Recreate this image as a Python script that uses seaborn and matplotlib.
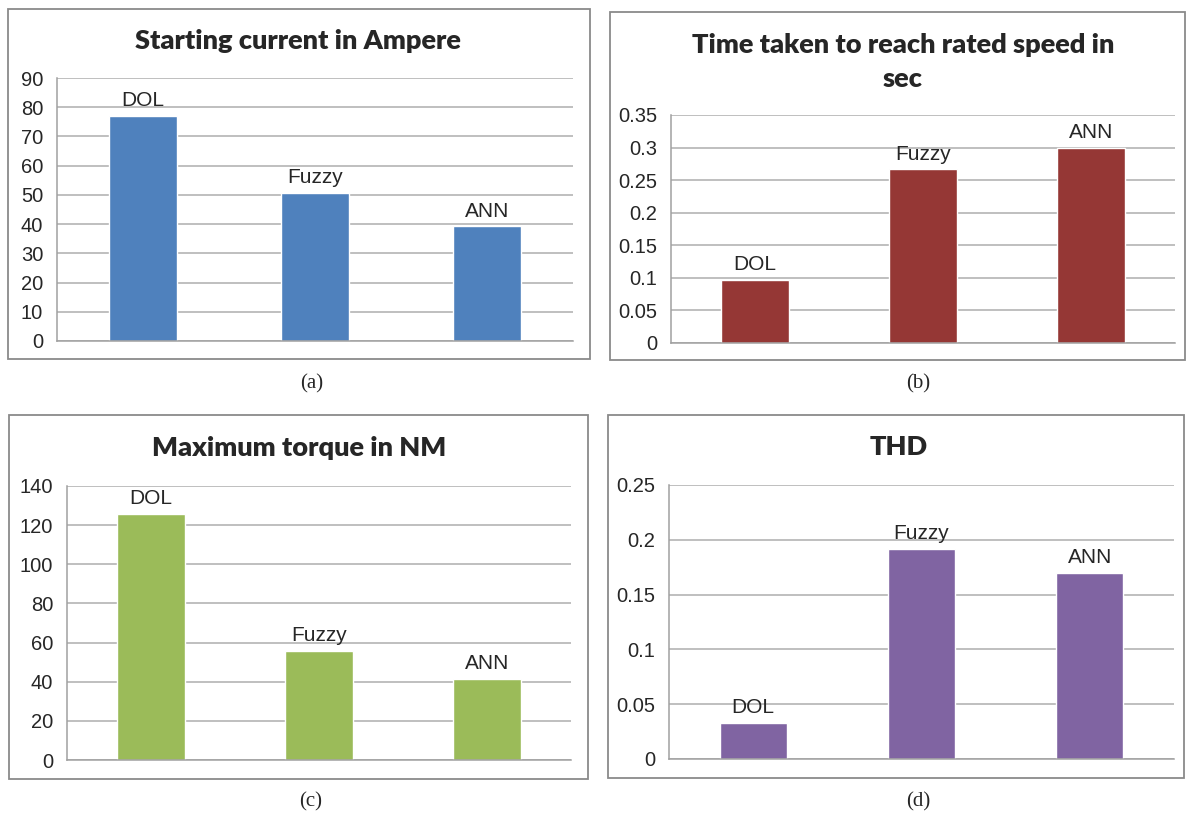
import matplotlib
matplotlib.use('Agg')
import matplotlib.pyplot as plt
from matplotlib.patches import Rectangle
import seaborn as sns

# data
methods = ['DOL', 'Fuzzy', 'ANN']
starting_current = [77, 50.8, 39.2]
time_to_rated = [0.097, 0.267, 0.3]
max_torque = [125.7, 55.7, 41.4]
thd = [0.033, 0.192, 0.17]

titles = ['Starting current in Ampere',
          'Time taken to reach rated speed in\nsec',
          'Maximum torque in NM',
          'THD']
captions = ['(a)', '(b)', '(c)', '(d)']
colors = ['#4F81BD', '#953735', '#9BBB59', '#8064A2']
y_limits = [(0, 90, 10), (0, 0.35, 0.05), (0, 140, 20), (0, 0.25, 0.05)]

sns.set_style('white')
plt.rcParams['font.family'] = ['Liberation Sans', 'DejaVu Sans']

W, H = 1187, 814
fig = plt.figure(figsize=(W / 100, H / 100), dpi=100)

# pixel boxes: axes (left, right, top, bottom), frame, title pos, caption pos
axes_px = [(57, 573, 78, 341), (671, 1175, 115, 343),
           (67, 571, 486, 760), (669, 1174, 485, 759)]
frame_px = [(8, 590, 9, 359), (610, 1185, 12, 360),
            (9, 588, 415, 779), (608, 1184, 415, 778)]
title_px = [(298, 41), (903, 62), (299, 448), (899, 447)]
caption_px = [(312, 384), (918, 384), (311, 802), (918, 802)]

series = [starting_current, time_to_rated, max_torque, thd]

for k in range(4):
    l, r, t, b = axes_px[k]
    ax = fig.add_axes([l / W, 1 - b / H, (r - l) / W, (b - t) / H])
    sns.barplot(x=methods, y=series[k], color=colors[k], width=0.4,
                saturation=1, ax=ax)
    lo, hi, step = y_limits[k]
    ticks = [round(lo + i * step, 4) for i in range(int(round((hi - lo) / step)) + 1)]
    ax.set_ylim(lo, hi)
    ax.set_yticks(ticks)
    ax.set_yticklabels([f'{v:g}' for v in ticks], fontsize=14.5)
    ax.set_xlim(-0.5, 2.5)
    ax.set_xticks([])
    ax.set_xlabel('')
    ax.grid(axis='y', color='#AEAEAE', linewidth=1.1)
    ax.set_axisbelow(True)
    for side in ['top', 'right']:
        ax.spines[side].set_visible(False)
    for side in ['left', 'bottom']:
        ax.spines[side].set_color('#A0A0A0')
        ax.spines[side].set_linewidth(1.1)
    ax.tick_params(axis='y', length=4, width=1.1, color='#A0A0A0', pad=6)

    # category name above each bar
    for i, (name, val) in enumerate(zip(methods, series[k])):
        ax.annotate(name, (i, val), xytext=(0, 4), textcoords='offset points',
                    ha='center', va='bottom', fontsize=15)

    fl, fr, ft, fb = frame_px[k]
    fig.patches.append(Rectangle((fl / W, 1 - fb / H), (fr - fl) / W, (fb - ft) / H,
                                 transform=fig.transFigure, fill=False,
                                 edgecolor='#8A8A8A', linewidth=1.3))
    tx, ty = title_px[k]
    fig.text(tx / W, 1 - ty / H, titles[k], ha='center', va='center',
             fontsize=19.5, fontweight='heavy', family=['Lato', 'DejaVu Sans'],
             linespacing=1.5)
    cx, cy = caption_px[k]
    fig.text(cx / W, 1 - cy / H, captions[k], ha='center', va='center',
             fontsize=15, family=['Liberation Serif', 'DejaVu Serif'])

fig.savefig('out.png', dpi=100)
